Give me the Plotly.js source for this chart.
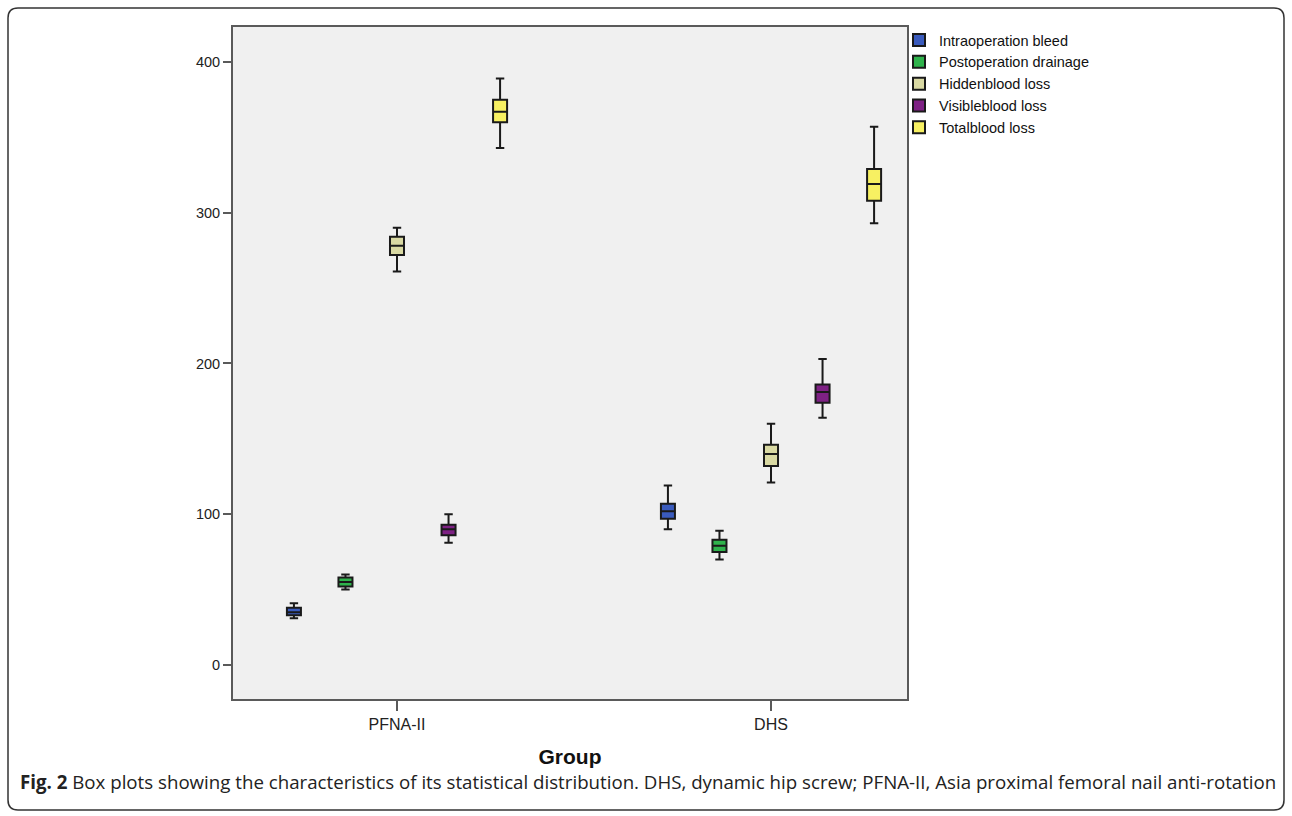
<!DOCTYPE html>
<html>
<head>
<meta charset="utf-8">
<script src="https://cdn.plot.ly/plotly-3.0.1.min.js"></script>
<style>
  html, body { margin: 0; padding: 0; background: #ffffff; }
  #chart { width: 1292px; height: 816px; }
</style>
</head>
<body>
<div id="chart"></div>
<script>
// ---- data ----
const groups = ['PFNA-II', 'DHS'];
const seriesNames = ['Intraoperation bleed', 'Postoperation drainage', 'Hiddenblood loss', 'Visibleblood loss', 'Totalblood loss'];
const seriesColors = ['#3a5bbd', '#2fb34c', '#d9d9a3', '#7e2184', '#f7f062'];

const intraopLow  = [31, 90];
const intraopQ1   = [33, 97];
const intraopMed  = [35, 102];
const intraopQ3   = [38, 107];
const intraopHigh = [41, 119];

const postopLow  = [50, 70];
const postopQ1   = [52, 75];
const postopMed  = [55, 79];
const postopQ3   = [58, 83];
const postopHigh = [60, 89];

const hiddenLow  = [261, 121];
const hiddenQ1   = [272, 132];
const hiddenMed  = [278, 140];
const hiddenQ3   = [284, 146];
const hiddenHigh = [290, 160];

const visibleLow  = [81, 164];
const visibleQ1   = [86, 174];
const visibleMed  = [90, 181];
const visibleQ3   = [93, 186];
const visibleHigh = [100, 203];

const totalLow  = [343, 293];
const totalQ1   = [360, 308];
const totalMed  = [367, 319];
const totalQ3   = [375, 329];
const totalHigh = [389, 357];

const yTickVals = [0, 100, 200, 300, 400];

const stats = [
  [intraopLow, intraopQ1, intraopMed, intraopQ3, intraopHigh],
  [postopLow, postopQ1, postopMed, postopQ3, postopHigh],
  [hiddenLow, hiddenQ1, hiddenMed, hiddenQ3, hiddenHigh],
  [visibleLow, visibleQ1, visibleMed, visibleQ3, visibleHigh],
  [totalLow, totalQ1, totalMed, totalQ3, totalHigh]
];

const traces = seriesNames.map((name, i) => ({
  type: 'box',
  name: name,
  x: groups,
  lowerfence: stats[i][0],
  q1: stats[i][1],
  median: stats[i][2],
  q3: stats[i][3],
  upperfence: stats[i][4],
  fillcolor: seriesColors[i],
  line: { color: '#1a1a1a', width: 2 },
  whiskerwidth: 0.6,
  boxpoints: false,
  hoverinfo: 'y'
}));

// pixel geometry helpers for the figure frame (paper units)
const L = 233, R = 385, T = 27, B = 117, W = 1292, H = 816;
const pw = W - L - R, ph = H - T - B;
const px = v => (v - L) / pw;
const py = v => (H - B - v) / ph;
const rx = 10 / pw, ry = 10 / ph;
const x0 = px(8), x1 = px(1284), y0 = py(810), y1 = py(8);
const framePath =
  `M ${x0 + rx},${y1} L ${x1 - rx},${y1} Q ${x1},${y1} ${x1},${y1 - ry} ` +
  `L ${x1},${y0 + ry} Q ${x1},${y0} ${x1 - rx},${y0} ` +
  `L ${x0 + rx},${y0} Q ${x0},${y0} ${x0},${y0 + ry} ` +
  `L ${x0},${y1 - ry} Q ${x0},${y1} ${x0 + rx},${y1} Z`;

const layout = {
  width: W, height: H,
  margin: { l: L, r: R, t: T, b: B, pad: 0 },
  paper_bgcolor: '#ffffff',
  plot_bgcolor: '#f0f0f0',
  boxmode: 'group',
  boxgap: 0.311,
  boxgroupgap: 0.728,
  font: { family: 'Liberation Sans, Arial, sans-serif', color: '#222222' },
  showlegend: true,
  legend: {
    x: px(899), xanchor: 'left',
    y: py(24), yanchor: 'top',
    bgcolor: 'rgba(0,0,0,0)',
    font: { size: 14.5, family: 'Liberation Sans, Arial, sans-serif', color: '#111111' },
    tracegroupgap: 0,
    itemclick: false
  },
  xaxis: {
    type: 'category',
    range: [-0.4385, 1.3636],
    showgrid: false, zeroline: false,
    showline: true, linecolor: '#5a5a5a', linewidth: 2, mirror: true,
    ticks: 'outside', ticklen: 10, tickwidth: 2, tickcolor: '#5a5a5a',
    tickfont: { size: 16, color: '#222222' },
    title: { text: 'Group', font: { size: 21, family: 'Liberation Sans, Arial, sans-serif', color: '#111111', weight: 'bold' }, standoff: 17 }
  },
  yaxis: {
    range: [-22.6, 423.2],
    tickvals: yTickVals,
    showgrid: false, zeroline: false,
    showline: true, linecolor: '#5a5a5a', linewidth: 2, mirror: true,
    ticks: 'outside', ticklen: 8, tickwidth: 2, tickcolor: '#5a5a5a',
    tickfont: { size: 14.5, color: '#222222' }
  },
  shapes: [{
    type: 'path', xref: 'paper', yref: 'paper', path: framePath,
    line: { color: '#333333', width: 1.5 }, fillcolor: 'rgba(0,0,0,0)', layer: 'below'
  }],
  annotations: [{
    xref: 'paper', yref: 'paper', x: px(18), y: py(782),
    xanchor: 'left', yanchor: 'middle', showarrow: false,
    text: '<b>Fig. 2</b> Box plots showing the characteristics of its statistical distribution. DHS, dynamic hip screw; PFNA-II, Asia proximal femoral nail anti-rotation',
    font: { size: 18.7, family: 'Open Sans, sans-serif', color: '#222222' }
  }]
};

Plotly.newPlot('chart', traces, layout, { displayModeBar: false, staticPlot: true });
</script>
</body>
</html>
